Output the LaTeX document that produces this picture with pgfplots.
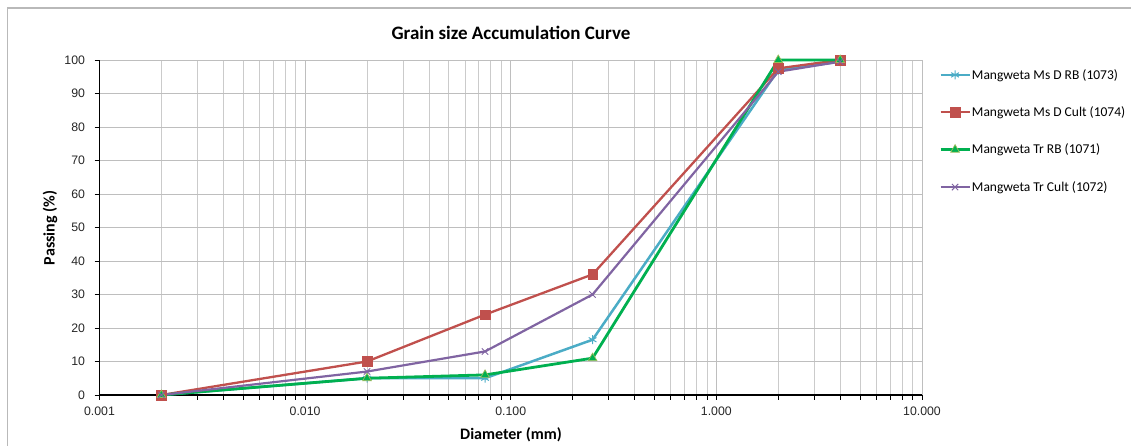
\documentclass[border=0pt]{standalone}
\usepackage{pgfplots}
\pgfplotsset{compat=1.18}
\usepackage{fontspec}
\setmainfont{Carlito}
\newfontfamily\arialf{Liberation Sans}
\definecolor{cB}{HTML}{4BACC6}
\definecolor{cR}{HTML}{C0504D}
\definecolor{cG}{HTML}{00B050}
\definecolor{cGe}{HTML}{9BBB59}
\definecolor{cP}{HTML}{8064A2}
\definecolor{gridc}{HTML}{BEBEBE}
\begin{document}
\begin{tikzpicture}[x=1pt,y=1pt]
\useasboundingbox (0,0) rectangle (1131,446);
\draw[color=gray!55, line width=1.2pt] (7.5,-5) rectangle (1140,438);
\begin{axis}[
  at={(99.5pt,51pt)}, anchor=south west,
  scale only axis, width=822.5pt, height=335pt,
  xmode=log, xmin=0.001, xmax=10,
  ymin=0, ymax=100,
  xtick={0.001,0.01,0.1,1,10},
  xticklabels={0.001,0.010,0.100,1.000,10.000},
  ytick={0,10,...,100},
  axis x line*=bottom, axis y line*=left,
  x axis line style={line width=1.6pt,-},
  y axis line style={line width=0.9pt,-},
  tick align=outside,
  major tick length=5pt, minor tick length=5pt,
  tick style={black, line width=0.8pt},
  grid=both,
  major grid style={gridc, line width=0.9pt},
  minor grid style={gridc!80, line width=0.8pt},
  ticklabel style={font=\arialf\fontsize{12.3}{14}\selectfont, text=black!85},
  /pgf/number format/assume math mode=true,
  xticklabel style={yshift=-3pt},
  yticklabel style={xshift=-6pt},
  legend style={at={(1.017,0.982)}, anchor=north west, draw=none, fill=none,
    font=\fontsize{13.5}{16}\selectfont, row sep=24pt,
    nodes={inner sep=1pt}},
  legend cell align=left,
  legend image code/.code={\draw[mark repeat=2,mark phase=2] plot coordinates {(0pt,0pt)(14.5pt,0pt)(29pt,0pt)};},
  clip=false,
]
\addplot[cB, line width=2.5pt, mark=asterisk, mark size=4.5pt, mark options={line width=1pt}]
  coordinates {(0.002,0)(0.02,5)(0.075,5)(0.25,16.5)(2,97)(4,99.5)};
\addlegendentry{Mangweta Ms D RB (1073)}
\addplot[cR, line width=2.3pt, mark=square*, mark size=4.8pt, mark options={line width=0.5pt, fill=cR}]
  coordinates {(0.002,0)(0.02,10)(0.075,24)(0.25,36)(2,97.5)(4,100)};
\addlegendentry{Mangweta Ms D Cult (1074)}
\addplot[cG, line width=2.8pt, mark=triangle*, mark size=5pt, mark options={line width=0.7pt, draw=cGe, fill=cG}]
  coordinates {(0.002,0)(0.02,5)(0.075,6)(0.25,11)(2,100)(4,100)};
\addlegendentry{Mangweta Tr RB (1071)}
\addplot[cP, line width=2.2pt, mark=x, mark size=4.5pt, mark options={line width=0.9pt}]
  coordinates {(0.002,0)(0.02,7)(0.075,13)(0.25,30)(2,96.5)(4,99.5)};
\addlegendentry{Mangweta Tr Cult (1072)}
\end{axis}
\node[font=\bfseries\fontsize{19}{22}\selectfont] at (511,413) {Grain size Accumulation Curve};
\node[font=\bfseries\fontsize{16}{19}\selectfont] at (511,11) {Diameter (mm)};
\node[font=\bfseries\fontsize{16}{19}\selectfont, rotate=90] at (50,218) {Passing (\%)};
\end{tikzpicture}
\end{document}
